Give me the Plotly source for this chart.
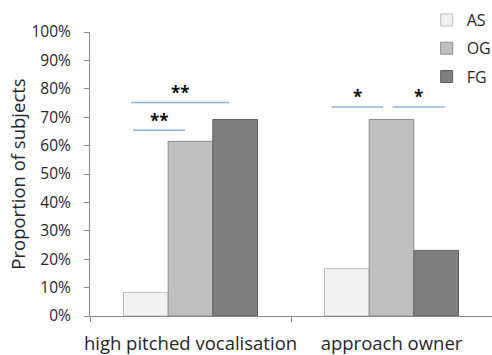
import plotly.graph_objects as go

categories = ["high pitched vocalisation", "approach owner"]
series_names = ["AS", "OG", "FG"]
as_values = [0.083, 0.167]
og_values = [0.615, 0.692]
fg_values = [0.692, 0.231]
series_values = [as_values, og_values, fg_values]
fill_colors = ["#F2F2F2", "#BFBFBF", "#7F7F7F"]
edge_colors = ["#BDBDBD", "#8C8C8C", "#5F5F5F"]

y_ticks = [i / 10 for i in range(11)]
y_tick_labels = [f"{i * 10}%" for i in range(11)]

# significance comparisons: category index, start/end offsets (category units), level, label
sig_category = [0, 0, 1, 1]
sig_start = [-0.296, -0.286, -0.298, 0.006]
sig_end = [0.192, -0.027, -0.042, 0.265]
sig_level = [0.752, 0.654, 0.736, 0.736]
sig_label = ["**", "**", "*", "*"]

FONT = "Open Sans"
TXT = "#262626"

fig = go.Figure()
for i, name in enumerate(series_names):
    fig.add_trace(go.Bar(
        x=categories, y=series_values[i], name=name,
        marker=dict(color=fill_colors[i], line=dict(color=edge_colors[i], width=1)),
        legendgroup=name,
    ))

for c, s, e, lv, lab in zip(sig_category, sig_start, sig_end, sig_level, sig_label):
    fig.add_shape(type="line", xref="x", yref="y", x0=c + s, x1=c + e, y0=lv, y1=lv,
                  line=dict(color="#8DB4E2", width=1.5))
    fig.add_annotation(x=c + (s + e) / 2, y=lv, xref="x", yref="y", text=lab,
                       showarrow=False, yanchor="middle", yshift=10,
                       font=dict(family=FONT, size=17, color="#111111", weight="bold"))

fig.update_layout(
    width=492, height=355,
    margin=dict(l=90, r=0, t=32, b=39, autoexpand=False),
    paper_bgcolor="white", plot_bgcolor="white",
    barmode="group", bargap=0.333, bargroupgap=0,
    font=dict(family=FONT, color=TXT),
    showlegend=True,
    legend=dict(x=0.8375, y=1.102, xanchor="left", yanchor="top",
                font=dict(size=16, color=TXT), bgcolor="rgba(0,0,0,0)",
                tracegroupgap=4.5, traceorder="grouped"),
    xaxis=dict(
        type="category", range=[-0.5, 1.5], automargin=False, tickangle=0,
        showline=True, linecolor="#8C8C8C", linewidth=1,
        ticks="outside", tickson="boundaries", ticklen=5, tickcolor="#8C8C8C",
        ticklabelstandoff=11,
        tickfont=dict(size=18.5, color=TXT), showgrid=False, zeroline=False,
    ),
    yaxis=dict(
        range=[0, 1], tickvals=y_ticks, ticktext=y_tick_labels, automargin=False,
        showline=True, linecolor="#8C8C8C", linewidth=1,
        ticks="outside", ticklen=5, tickcolor="#8C8C8C", ticklabelstandoff=10,
        tickfont=dict(size=15.5, color=TXT), showgrid=False, zeroline=False,
        title=dict(text="Proportion of subjects", font=dict(size=18.5, color=TXT), standoff=1),
    ),
)

fig.write_html("out.html", config={"displayModeBar": False},
               post_script="document.body.style.margin='0px';")
